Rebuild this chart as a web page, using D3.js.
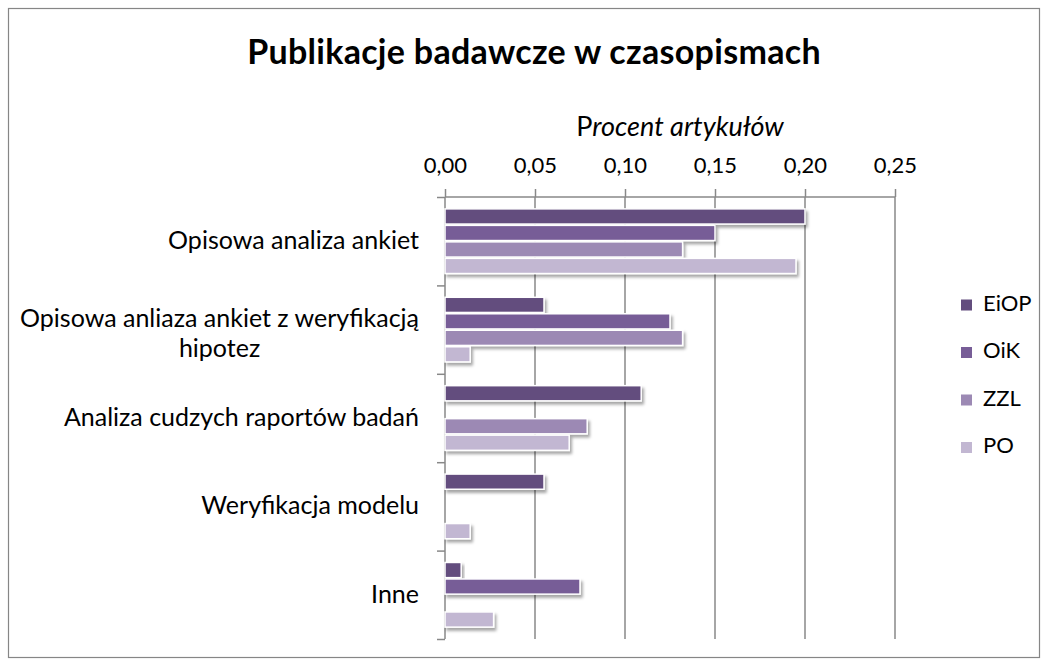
<!DOCTYPE html>
<html lang="pl">
<head>
<meta charset="UTF-8">
<title>Publikacje badawcze w czasopismach</title>
<script src="https://cdnjs.cloudflare.com/ajax/libs/d3/7.8.5/d3.min.js"></script>
<style>
  body { margin: 0; background: #fff; font-family: Lato, 'Open Sans', sans-serif; }
  svg { display: block; }
  .grid line { stroke: #888; stroke-width: 1.5px; }
  .axis path, .axis line { stroke: #888; stroke-width: 1.5px; }
  .axis text { font-family: Lato, sans-serif; font-size: 22px; fill: #000; }
  .cat { font-size: 25px; fill: #000; }
  .legend text { font-size: 22px; fill: #000; }
</style>
</head>
<body>
<svg id="chart" width="1048" height="666">
  <defs>
    <filter id="shadow" x="-20%" y="-50%" width="140%" height="220%">
      <feDropShadow dx="2" dy="3" stdDeviation="1.5" flood-color="#000" flood-opacity="0.35"/>
    </filter>
  </defs>
</svg>
<script>
// dane
const categories = [
  "Opisowa analiza ankiet",
  "Opisowa anliaza ankiet z weryfikacją hipotez",
  "Analiza cudzych raportów badań",
  "Weryfikacja modelu",
  "Inne"
];
const seriesNames = ["EiOP", "OiK", "ZZL", "PO"];
const EiOP = [0.200, 0.055, 0.109, 0.055, 0.009];
const OiK  = [0.150, 0.125, 0.000, 0.000, 0.075];
const ZZL  = [0.132, 0.132, 0.079, 0.000, 0.000];
const PO   = [0.195, 0.014, 0.069, 0.014, 0.027];
const xTicks = [0, 0.05, 0.10, 0.15, 0.20, 0.25];
const colors = ["#634d7e", "#775d97", "#9c89b4", "#c2b7d2"];

const values = [EiOP, OiK, ZZL, PO];
const svg = d3.select("#chart");

const plot = { left: 445, right: 895, top: 197, bottom: 639 };

// ramka
svg.append("rect")
  .attr("x", 8.5).attr("y", 8.5)
  .attr("width", 1031).attr("height", 649)
  .attr("fill", "#fff").attr("stroke", "#868686").attr("stroke-width", 1.2);

svg.append("text")
  .attr("x", 534).attr("y", 64)
  .attr("text-anchor", "middle")
  .style("font-size", "34px").style("font-weight", "bold").style("letter-spacing", "0.3px")
  .text("Publikacje badawcze w czasopismach");

const axTitle = svg.append("text")
  .attr("x", 680).attr("y", 136)
  .attr("text-anchor", "middle")
  .style("font-size", "27px");
axTitle.append("tspan").text("P");
axTitle.append("tspan").style("font-style", "italic").text("rocent artykułów");

const x = d3.scaleLinear().domain([0, 0.25]).range([plot.left, plot.right]);
const y = d3.scaleBand().domain(categories).range([plot.top, plot.bottom]).padding(0);
const ySub = d3.scaleBand().domain(seriesNames).range([0, y.bandwidth()])
  .paddingOuter(0.72).paddingInner(0.08);

// linie siatki
svg.append("g").attr("class", "grid")
  .selectAll("line").data(xTicks.slice(1)).join("line")
  .attr("x1", d => x(d)).attr("x2", d => x(d))
  .attr("y1", plot.top).attr("y2", plot.bottom);

// oś X u góry
svg.append("g").attr("class", "axis")
  .attr("transform", `translate(0,${plot.top})`)
  .call(d3.axisTop(x).tickValues(xTicks).tickSize(8).tickPadding(16)
    .tickFormat(d => d.toFixed(2).replace(".", ",")))
  .call(g => g.select(".domain").attr("d", `M${plot.left},0H${plot.right}`));

// oś Y
const yEdge = d3.scaleLinear().domain([0, categories.length]).range([plot.top, plot.bottom]);
svg.append("g").attr("class", "axis")
  .attr("transform", `translate(${plot.left},0)`)
  .call(d3.axisLeft(yEdge).tickValues(d3.range(categories.length + 1)).tickSize(8).tickFormat(""))
  .call(g => g.select(".domain").attr("d", `M0,${plot.top}V${plot.bottom}`));

// słupki
const bars = [];
categories.forEach((c, i) => {
  seriesNames.forEach((s, j) => {
    if (values[j][i] > 0) bars.push({ cat: c, series: s, value: values[j][i], color: colors[j] });
  });
});

svg.append("g")
  .selectAll("rect").data(bars).join("rect")
  .attr("x", x(0))
  .attr("y", d => y(d.cat) + ySub(d.series))
  .attr("width", d => x(d.value) - x(0))
  .attr("height", ySub.bandwidth())
  .attr("fill", d => d.color)
  .attr("stroke", "#fff").attr("stroke-width", 1.5)
  .attr("filter", "url(#shadow)");

// etykiety kategorii (zawijane)
const labelRight = 419, maxW = 420, lineH = 30;
const labels = svg.append("g");
categories.forEach(c => {
  const t = labels.append("text").attr("class", "cat").attr("text-anchor", "middle");
  const words = c.split(" ");
  const lines = [];
  let cur = [];
  words.forEach(w => {
    t.text([...cur, w].join(" "));
    if (cur.length && t.node().getComputedTextLength() > maxW) {
      lines.push(cur.join(" "));
      cur = [w];
    } else cur.push(w);
  });
  lines.push(cur.join(" "));
  t.text(null);
  const widths = lines.map(l => { t.text(l); return t.node().getComputedTextLength(); });
  t.text(null);
  const blockW = d3.max(widths);
  const cx = labelRight - blockW / 2;
  const cy = y(c) + y.bandwidth() / 2;
  const y0 = cy - (lines.length - 1) * lineH / 2 + 8 + (lines.length > 1 ? 4 : 0);
  lines.forEach((l, k) => {
    t.append("tspan").attr("x", cx).attr("y", y0 + k * lineH).text(l);
  });
});

// legenda
const lg = svg.append("g").attr("class", "legend");
seriesNames.forEach((s, j) => {
  const cy = 302.5 + j * 47.5;
  lg.append("rect").attr("x", 961).attr("y", cy - 3).attr("width", 11).attr("height", 11)
    .attr("fill", colors[j]);
  lg.append("text").attr("x", 983).attr("y", cy + 8).text(s);
});
</script>
</body>
</html>
